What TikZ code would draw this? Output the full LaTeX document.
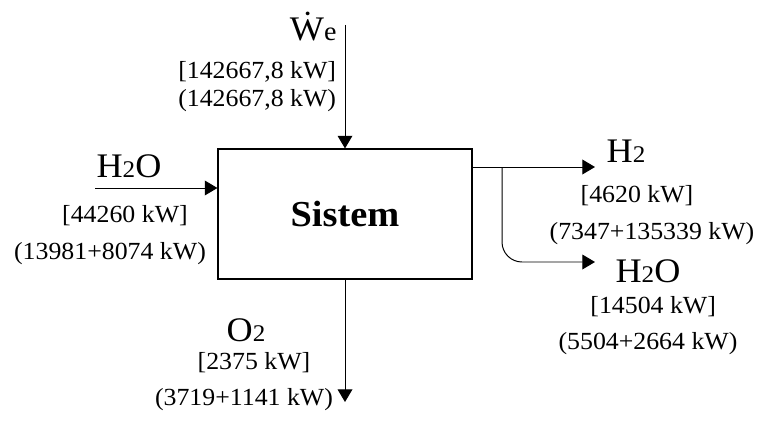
\documentclass[tikz,border=0pt]{standalone}
\usepackage{fontspec}
\setmainfont[FakeStretch=1.05]{Liberation Serif}
\usetikzlibrary{arrows.meta, positioning}

\newcommand\idx[1]{{\fontsize{17}{18}\selectfont #1}}

\begin{document}
\begin{tikzpicture}[
    flow/.style={-{Triangle[length=9pt, width=10.5pt]}, line width=0.7pt},
    sysbox/.style={rectangle, draw, line width=0.8pt, minimum width=6.35cm, minimum height=3.25cm, font=\fontsize{26}{28}\selectfont\bfseries},
    chem/.style={inner sep=0pt, font=\fontsize{24.5}{26}\selectfont},
    val/.style={inner sep=0pt, font=\fontsize{17.5}{19}\selectfont}
]
    \useasboundingbox (0,0) rectangle (19,10.5);

    \node[sysbox] (sys) at (8.625,5.15) {Sistem};

    % power input
    \coordinate (wtop) at (8.625,9.875);
    \node[chem] (wel) at (7.83,9.83) {\.{W}{\fontsize{19}{20}\selectfont e}};
    \node[val] (wval1) at (6.43,8.7) {[142667,8 kW]};
    \node[val] (wval2) at (6.43,7.975) {(142667,8 kW)};
    \draw[flow] (wtop) -- (sys.north);

    % water input
    \coordinate (win) at (2.375,5.8);
    \node[chem] (h2oin) at (3.225,6.35) {H\idx{2}O};
    \node[val] (inval1) at (3.125,5.1) {[44260 kW]};
    \node[val] (inval2) at (2.75,4.15) {(13981+8074 kW)};
    \draw[flow] (win) -- (win -| sys.west);

    % oxygen output
    \coordinate (oout) at (8.625,0.45);
    \node[chem] (o2) at (6.15,2.25) {O\idx{2}};
    \node[val] (oval1) at (6.35,1.425) {[2375 kW]};
    \node[val] (oval2) at (6.1,0.5) {(3719+1141 kW)};
    \draw[flow] (sys.south) -- (oout);

    % hydrogen and water output
    \coordinate (hout) at (14.875,6.325);
    \coordinate (split) at (12.55,6.325);
    \coordinate (wout) at (14.875,3.95);
    \node[chem] (h2) at (15.65,6.72) {H\idx{2}};
    \node[val] (hval1) at (15.925,5.6) {[4620 kW]};
    \node[val] (hval2) at (16.3,4.65) {(7347+135339 kW)};
    \node[chem] (h2oout) at (16.2,3.72) {H\idx{2}O};
    \node[val] (wval3) at (16.33,2.825) {[14504 kW]};
    \node[val] (wval4) at (16.2,1.92) {(5504+2664 kW)};
    \draw[flow] (hout -| sys.east) -- (hout);
    \draw[flow, rounded corners=0.5cm] (split) |- (wout);
\end{tikzpicture}
\end{document}
